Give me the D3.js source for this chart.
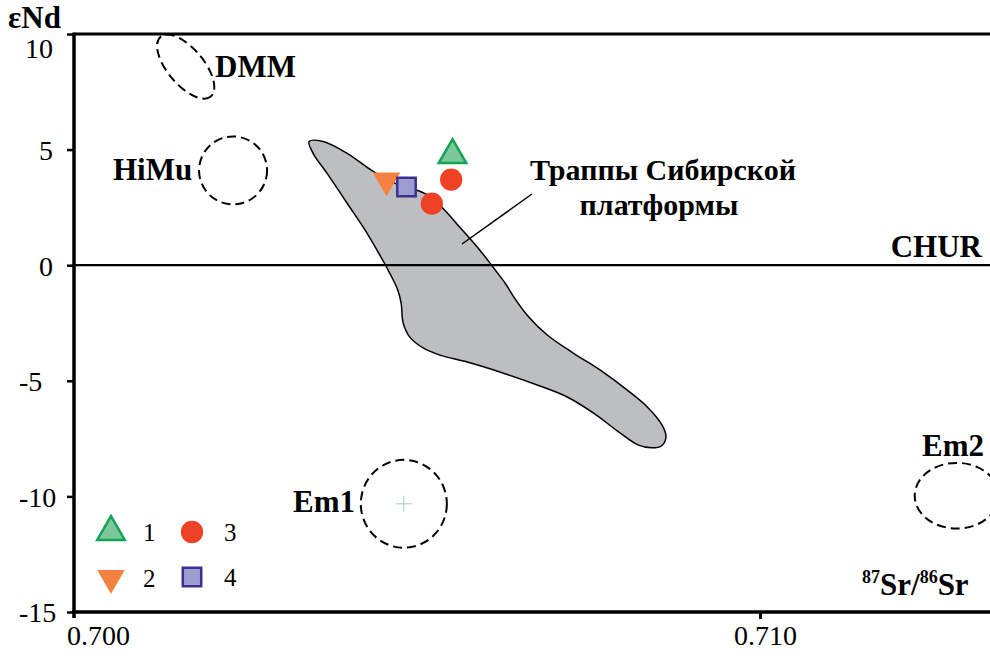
<!DOCTYPE html>
<html>
<head>
<meta charset="utf-8">
<script src="https://cdn.jsdelivr.net/npm/d3@7"></script>
<style>
    body { margin: 0; background: #fff; }
    svg { display: block; }
    text { font-family: "Liberation Serif", "Times New Roman", serif; fill: #000; }
    .lbl { font-weight: bold; font-size: 31px; }
</style>
</head>
<body>
<svg id="chart"></svg>
<script>
// data
const xTicks = [0.700, 0.710];
const yTicks = [-15, -10, -5, 0, 5, 10];

// field of Siberian platform traps (87Sr/86Sr, eNd)
const trapSr = [0.70324, 0.70345, 0.70381, 0.70420, 0.70453, 0.70486, 0.70505, 0.70526, 0.70550, 0.70580,
    0.70601, 0.70618, 0.70631, 0.70651, 0.70681, 0.70720, 0.70760, 0.70801, 0.70831, 0.70853,
    0.70859, 0.70852, 0.70837, 0.70817, 0.70790, 0.70750, 0.70711, 0.70666, 0.70610, 0.70561,
    0.70520, 0.70495, 0.70475, 0.70465, 0.70462, 0.70457, 0.70445, 0.70436, 0.70411, 0.70381,
    0.70351, 0.70330];
const trapNd = [5.35, 5.35, 4.84, 4.06, 3.54, 3.24, 2.98, 2.42, 1.64, 0.65,
    -0.13, -0.78, -1.38, -2.16, -3.02, -3.80, -4.53, -5.40, -6.13, -6.91,
    -7.43, -7.82, -7.90, -7.77, -7.25, -6.39, -5.70, -5.18, -4.62, -4.19,
    -3.89, -3.58, -3.11, -2.50, -1.64, -1.08, -0.35, 0.13, 1.38, 2.68,
    3.97, 4.84];

// mantle end-members: centre and half-widths in data units, tilt in degrees
const memberNames = ['DMM', 'HiMu', 'Em1', 'Em2'];
const memberSr = [0.70139, 0.70210, 0.70466, 0.71295];
const memberNd = [8.59, 4.10, -10.32, -9.97];
const memberRSr = [0.000585, 0.00051, 0.000645, 0.00063];
const memberRNd = [0.78, 1.47, 1.90, 1.42];
const memberTilt = [50, 0, 0, 0];

// samples
const sampleGroup = [1, 3, 3, 2, 4];
const sampleSr = [0.70539, 0.70537, 0.70508, 0.70440, 0.70470];
const sampleNd = [4.76, 3.70, 2.66, 3.67, 3.38];

const groups = [1, 2, 3, 4];

const W = 990, H = 662;
const plotL = 74, plotR = 990, plotT = 34, plotB = 612;

const svg = d3.select('#chart').attr('width', W).attr('height', H);

const x = d3.scaleLinear().domain([0.700, 0.710]).range([93, 760]);
const y = d3.scaleLinear().domain([-15, 10]).range([plotB, plotT]);

const symbolStyle = {
    1: { type: d3.symbolTriangle, size: 330, fill: '#7cc89a', stroke: '#13a456', sw: 2.5, rot: 0 },
    2: { type: d3.symbolTriangle, size: 330, fill: '#f58140', stroke: 'none', sw: 0, rot: 180 },
    3: { type: d3.symbolCircle, size: 390, fill: '#ef4125', stroke: 'none', sw: 0, rot: 0 },
    4: { type: d3.symbolSquare, size: 340, fill: '#9d9dd0', stroke: '#3d3190', sw: 2.5, rot: 0 }
};

// trap field
const trapPts = trapSr.map((d, i) => [x(d), y(trapNd[i])]);
svg.append('path')
    .attr('d', d3.line().curve(d3.curveCatmullRomClosed.alpha(0.5))(trapPts))
    .attr('fill', '#bdbec2')
    .attr('stroke', '#000')
    .attr('stroke-width', 1.5);

// CHUR line
svg.append('line')
    .attr('x1', plotL).attr('x2', plotR)
    .attr('y1', y(0)).attr('y2', y(0))
    .attr('stroke', '#000').attr('stroke-width', 2.2);

// top frame line
svg.append('line')
    .attr('x1', plotL).attr('x2', plotR)
    .attr('y1', plotT).attr('y2', plotT)
    .attr('stroke', '#000').attr('stroke-width', 3);

// end-member ellipses
memberNames.forEach((name, i) => {
    const cx = x(memberSr[i]), cy = y(memberNd[i]);
    svg.append('ellipse')
        .attr('cx', cx).attr('cy', cy)
        .attr('rx', x(memberSr[i] + memberRSr[i]) - cx)
        .attr('ry', cy - y(memberNd[i] + memberRNd[i]))
        .attr('transform', `rotate(${memberTilt[i]},${cx},${cy})`)
        .attr('fill', 'none')
        .attr('stroke', '#000')
        .attr('stroke-width', 2)
        .attr('stroke-dasharray', '9,5');
});

// small cross at Em1 centre
const e1x = x(memberSr[2]), e1y = y(memberNd[2]);
svg.append('path')
    .attr('d', `M${e1x - 8},${e1y}H${e1x + 8}M${e1x},${e1y - 8}V${e1y + 8}`)
    .attr('stroke', '#a9c6dd').attr('stroke-width', 1);

// end-member labels
const memberLabelPos = [[215, 77], [113, 180], [293, 512], [922, 456]];
memberNames.forEach((name, i) => {
    svg.append('text').attr('class', 'lbl')
        .attr('x', memberLabelPos[i][0]).attr('y', memberLabelPos[i][1])
        .text(name);
});

svg.append('text').attr('class', 'lbl')
    .attr('x', 982).attr('y', 257).attr('text-anchor', 'end')
    .text('CHUR');

// trap field label and leader
svg.append('line')
    .attr('x1', 462).attr('y1', 244).attr('x2', 532).attr('y2', 194)
    .attr('stroke', '#000').attr('stroke-width', 1.5);
svg.append('text').attr('class', 'lbl').style('font-size', '30px')
    .attr('x', 663).attr('y', 180).attr('text-anchor', 'middle')
    .text('Траппы Сибирской');
svg.append('text').attr('class', 'lbl').style('font-size', '30px')
    .attr('x', 659).attr('y', 215).attr('text-anchor', 'middle')
    .text('платформы');

// sample markers
const drawMarker = (g, px, py) => {
    const s = symbolStyle[g];
    svg.append('path')
        .attr('d', d3.symbol().type(s.type).size(s.size)())
        .attr('transform', `translate(${px},${py}) rotate(${s.rot})`)
        .attr('fill', s.fill)
        .attr('stroke', s.stroke)
        .attr('stroke-width', s.sw);
};
sampleGroup.forEach((g, i) => drawMarker(g, x(sampleSr[i]), y(sampleNd[i])));

// legend
const legendPos = { 1: [111, 532], 2: [111, 578], 3: [192, 532], 4: [192, 577] };
groups.forEach(g => {
    const [lx, ly] = legendPos[g];
    drawMarker(g, lx, ly);
    svg.append('text')
        .attr('x', lx + 32).attr('y', ly + 9)
        .style('font-size', '25px')
        .text(g);
});

// axes
const yAxis = d3.axisLeft(y)
    .tickValues(yTicks)
    .tickSize(7)
    .tickSizeOuter(0)
    .tickPadding(14)
    .tickFormat(d => String(d));
const yAxisG = svg.append('g')
    .attr('transform', `translate(${plotL},0)`)
    .call(yAxis)
    .attr('font-family', null);
yAxisG.select('.domain').remove();
yAxisG.selectAll('.tick line').attr('stroke-width', 2.5);
yAxisG.selectAll('.tick text')
    .style('font-size', '28px')
    .attr('dy', d => d === 10 ? '0.85em' : '0.35em')
    .attr('x', d => d < 0 ? -55 : -21)
    .attr('text-anchor', d => d < 0 ? 'start' : 'end');

svg.append('line')
    .attr('x1', plotL).attr('x2', plotL)
    .attr('y1', plotT - 1.5).attr('y2', plotB + 6)
    .attr('stroke', '#000').attr('stroke-width', 3.5);

const xAxis = d3.axisBottom(x)
    .tickValues(xTicks)
    .tickSize(7)
    .tickSizeOuter(0)
    .tickPadding(6)
    .tickFormat(d3.format('.3f'));
const xAxisG = svg.append('g')
    .attr('transform', `translate(0,${plotB})`)
    .call(xAxis)
    .attr('font-family', null);
xAxisG.select('.domain').remove();
xAxisG.selectAll('.tick line')
    .attr('stroke-width', 3)
    .attr('opacity', d => d === 0.700 ? 0 : 1);
xAxisG.selectAll('.tick text')
    .style('font-size', '28px')
    .attr('dx', 5);

svg.append('line')
    .attr('x1', plotL - 2).attr('x2', plotR)
    .attr('y1', plotB).attr('y2', plotB)
    .attr('stroke', '#000').attr('stroke-width', 3.5);

// axis titles
svg.append('text').attr('class', 'lbl')
    .attr('x', 8).attr('y', 28)
    .text('εNd');

const srTitle = svg.append('text').attr('class', 'lbl')
    .attr('x', 862).attr('y', 595);
srTitle.append('tspan').style('font-size', '18px').attr('dy', -12).text('87');
srTitle.append('tspan').attr('dy', 12).text('Sr/');
srTitle.append('tspan').style('font-size', '18px').attr('dy', -12).text('86');
srTitle.append('tspan').attr('dy', 12).text('Sr');
</script>
</body>
</html>
